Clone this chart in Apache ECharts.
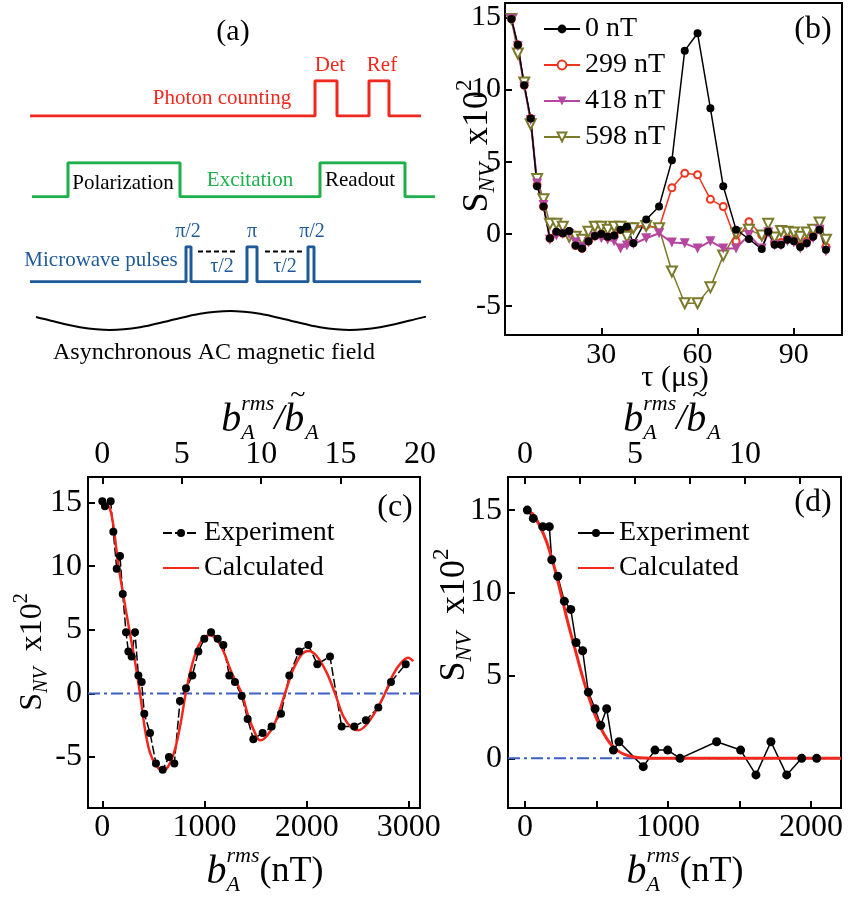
<!DOCTYPE html>
<html lang="en">
<head>
<meta charset="UTF-8">
<title>NV spin echo</title>
<script src="https://cdn.jsdelivr.net/npm/echarts@6/dist/echarts.min.js"></script>
<style>html,body{margin:0;padding:0;background:#fff}</style>
</head>
<body>
<div id="main" style="width:852px;height:903px"></div>
<script>
var FONT = 'Liberation Serif';

// (a) pulse sequence, schematic time vs level
var photonT = [30, 315, 315, 337, 337, 369, 369, 389, 389, 421];
var photonLvl = [0, 0, 1, 1, 0, 0, 1, 1, 0, 0];
var laserT = [32, 68, 68, 180, 180, 320, 320, 405, 405, 435];
var laserLvl = [0, 0, 1, 1, 0, 0, 1, 1, 0, 0];
var mwT = [30, 186, 186, 191, 191, 247, 247, 257, 257, 308, 308, 314, 314, 421];
var mwLvl = [0, 0, 1, 1, 0, 0, 1, 1, 0, 0, 1, 1, 0, 0];
var acT = [36, 50, 80, 110, 140, 170, 200, 230, 260, 290, 320, 350, 380, 410, 426];
var acLvl = [0.36, 0, -0.71, -1, -0.71, 0, 0.71, 1, 0.71, 0, -0.71, -1, -0.71, 0, 0.41];
var gap1T = [198, 238];
var gap2T = [265, 305];

// (b) S_NV x10^2 vs tau (us)
var tauUs = [2, 4, 6, 8, 10, 12, 14, 16, 18, 20, 22, 24, 26, 28, 30, 32, 34, 36, 38, 40,
             44, 48, 52, 56, 60, 64, 68, 72, 76, 80, 82, 84, 86, 88, 90, 92, 94, 96, 98, 100];
var sig0nT = [14.9, 13.1, 10.3, 8.0, 3.3, 1.9, -0.3, 0.15, 0.05, 0.2, -0.8, -1.0, -0.5, -0.15, 0, -0.2, -0.1, 0.3, 0.5, -0.65,
              1.0, 1.9, 5.1, 12.7, 13.9, 8.7, 3.3, 0.3, -0.35, -1.05, 0.15, -0.75, -0.75, -0.4, -0.5, -0.9, -0.65, -0.2, 0.3, -1.1];
var sig299nT = [14.9, 13.1, 10.3, 8.0, 3.4, 1.9, -0.3, 0.1, 0.05, 0.15, -0.8, -1.0, -0.5, -0.15, 0, -0.2, -0.1, 0.3, 0.4, 0.5,
                0.6, 0.4, 3.2, 4.2, 4.1, 2.4, 1.9, -0.5, 0.85, -0.07, 0.2, -0.6, -0.6, -0.3, -0.4, -0.8, -0.5, -0.1, 0.4, -0.9];
var sig418nT = [14.9, 13.0, 10.2, 7.9, 3.5, 2.0, -0.4, -0.1, 0.0, 0.0, -0.6, -0.9, -0.6, -0.2, -0.3, -0.4, -0.5, -1.0, -0.8, -0.7,
                -0.3, 0.05, -0.6, -0.65, -1.0, -0.5, -1.0, -1.0, -0.07, -1.0, 0.1, -0.8, -0.8, -0.5, -0.6, -1.0, -0.7, -0.3, 0.3, -1.2];
var sig598nT = [14.9, 12.5, 10.5, 7.6, 3.8, 2.4, 0.7, 0.7, 0.5, -0.2, -0.2, -0.4, 0.15, 0.5, 0.5, 0.3, 0.5, 0.5, -0.2, 0.4,
                0.55, 0.4, -2.6, -4.8, -4.8, -3.7, -1.5, 0.05, 0.3, -0.1, 0.7, -0.25, 0.2, 0.15, 0.1, -0.2, 0.1, 0.3, 0.8, -0.4];

// (c) S_NV x10^2 vs b_A^rms (nT)
var expC_b = [0, 26, 82, 108, 141, 173, 200, 232, 255, 287, 320, 353, 385, 411, 467, 525, 591, 652, 705, 760,
              819, 881, 940, 998, 1064, 1129, 1185, 1243, 1298, 1364, 1422, 1478, 1569, 1657, 1749, 1830, 1925, 2016, 2104, 2228,
              2342, 2466, 2580, 2701, 2825, 2969];
var expC_s = [15.1, 14.7, 15.1, 12.7, 9.8, 10.8, 7.8, 4.8, 3.3, 2.9, 4.8, 1.4, 0.9, -1.6, -3.1, -5.5, -6.0, -5.0, -5.5, -0.6,
              0.4, 1.4, 3.3, 4.3, 4.8, 4.3, 3.8, 1.4, 0.9, -0.2, -2.0, -3.6, -3.1, -2.6, -1.6, 1.4, 3.3, 3.8, 2.3, 2.9,
              -2.6, -2.6, -2.1, -1.1, 0.9, 2.3];
var calcC_b = [0, 40, 75, 108, 157, 206, 264, 320, 369, 418, 467, 532, 591, 646, 711, 770, 816, 875, 940, 1005,
               1054, 1119, 1184, 1266, 1364, 1429, 1494, 1543, 1608, 1690, 1788, 1869, 1951, 2016, 2098, 2196, 2277, 2358, 2440, 2505,
               2587, 2685, 2766, 2847, 2929, 2994, 3043];
var calcC_s = [15.0, 14.9, 14.5, 13.2, 10.1, 7.7, 5.0, 2.5, 0, -2.83, -4.67, -5.72, -6.04, -5.72, -4.4, -2.2, 0, 2.15, 3.72, 4.46,
               4.57, 4.25, 3.33, 1.63, 0, -1.79, -3.1, -3.68, -3.36, -2.3, 0, 1.89, 3.07, 3.33, 2.94, 1.63, 0, -1.79, -2.7, -2.89,
               -2.44, -1.26, 0, 1.5, 2.46, 2.81, 2.54];

// (d) S_NV x10^2 vs b_A^rms (nT)
var expD_b = [16, 58, 124, 170, 187, 229, 275, 320, 357, 403, 443, 490, 529, 571, 618, 657, 827, 909, 998, 1084,
              1340, 1508, 1615, 1720, 1830, 1935, 2040];
var expD_s = [15.0, 14.5, 14.0, 14.0, 12.0, 11.0, 9.5, 9.0, 7.0, 6.5, 4.0, 3.0, 2.0, 3.0, 0.5, 1.0, -0.5, 0.5, 0.5, 0.0,
              1.0, 0.5, -1.0, 1.0, -1.0, 0.0, 0.0];
var calcD_b = [0, 50, 100, 150, 200, 250, 300, 350, 400, 450, 500, 550, 600, 650, 700, 750, 800, 900, 1000, 2210];
var calcD_s = [15.0, 14.8, 14.1, 13.1, 11.7, 10.0, 8.2, 6.6, 5.0, 3.6, 2.4, 1.5, 0.85, 0.45, 0.22, 0.1, 0.04, 0.01, 0, 0];

// axis extents
var tauRange = [0, 105], sigBRange = [-7, 16];
var bC = [-140, 3109], ratioC = [-0.9, 20], sigCRange = [-9, 17];
var bD = [-119, 2210], ratioD = [-0.773, 14.36], sigDRange = [-3, 17];

function pairs(xs, ys) { return xs.map(function (x, i) { return [x, ys[i]]; }); }

var measureCtx = document.createElement('canvas').getContext('2d');
function textWidth(t, size, italic) {
    measureCtx.font = (italic ? 'italic ' : '') + size + 'px "' + FONT + '"';
    return measureCtx.measureText(t).width;
}

function label(t, x, y, size, color, italic) {
    return {type: 'text', x: x, y: y, z: 100,
        style: {text: t, fontFamily: FONT, fontSize: size, fontStyle: italic ? 'italic' : 'normal',
                fill: color || '#000', align: 'center', verticalAlign: 'middle'}};
}

// pieces laid left to right, an array entry = stacked pieces (sup over sub)
function mathTitle(parts, cx, cy, rot) {
    var adv = parts.map(function (p) {
        return Math.max.apply(null, [].concat(p).map(function (q) {
            return textWidth(q.t, q.s, q.i) + (q.dx || 0);
        }));
    });
    var total = adv.reduce(function (a, b) { return a + b; }, 0);
    var x = -total / 2, kids = [];
    parts.forEach(function (p, k) {
        [].concat(p).forEach(function (q) {
            kids.push({type: 'text', x: x + (q.dx || 0), y: q.dy || 0,
                style: {text: q.t, fontFamily: FONT, fontSize: q.s, fontStyle: q.i ? 'italic' : 'normal',
                        fill: '#000', align: 'left', verticalAlign: 'middle'}});
        });
        x += adv[k];
    });
    return {type: 'group', x: cx, y: cy, rotation: rot || 0, z: 100, children: kids};
}

function sTitle(big, small, gap) {
    return [{t: 'S', s: big}, {t: 'NV', s: small, i: true, dy: small * 0.45}, {t: gap + 'x10', s: big},
            {t: '2', s: small, dy: -small * 0.55}];
}
var bTitle = [{t: 'b', s: 40, i: true}, [{t: 'rms', s: 22, i: true, dy: -16}, {t: 'A', s: 22, i: true, dy: 13}], {t: '(nT)', s: 36}];
var ratioTitle = [{t: 'b', s: 40, i: true}, [{t: 'rms', s: 22, i: true, dy: -16}, {t: 'A', s: 22, i: true, dy: 13}],
                  {t: '/', s: 36, i: true}, [{t: 'b', s: 40, i: true}, {t: '~', s: 28, dx: 6, dy: -24}],
                  {t: 'A', s: 22, i: true, dy: 13}];

function hiddenAxis(gridIndex, range) {
    return {type: 'value', gridIndex: gridIndex, min: range[0], max: range[1], show: false};
}

function frameAxis(gridIndex, pos, range, step, labelEvery, size, margin, hideZero) {
    return {
        type: 'value', gridIndex: gridIndex, position: pos, min: range[0], max: range[1],
        minInterval: step, maxInterval: step,
        axisLine: {show: true, onZero: false, lineStyle: {color: '#000', width: 2}},
        axisTick: {show: true, inside: true, length: 7, lineStyle: {color: '#000', width: 2}},
        splitLine: {show: false},
        axisLabel: {
            color: '#000', fontFamily: FONT, fontSize: size, margin: margin,
            formatter: function (v) {
                var r = Math.round(v / labelEvery) * labelEvery;
                if (Math.abs(v - r) > 1e-6) return '';
                if (hideZero && r === 0) return '';
                return String(r);
            }
        }
    };
}

function pulseLine(xi, t, lvl, color, width) {
    return {type: 'line', xAxisIndex: xi, yAxisIndex: xi, data: pairs(t, lvl), symbol: 'none',
            lineStyle: {color: color, width: width}, silent: true};
}

var RED = '#f0281e', GREEN = '#1eb04a', BLUE = '#1f5a98';
var legendText = {fontFamily: FONT, fontSize: 28, color: '#000', lineHeight: 30};

var option = {
    animation: false,
    backgroundColor: '#fff',
    grid: [
        {left: 0, top: 80.7, width: 440, height: 35.3},
        {left: 0, top: 162.7, width: 440, height: 34},
        {left: 0, top: 246.7, width: 440, height: 35},
        {left: 0, top: 311, width: 440, height: 19},
        {left: 505, top: 3, width: 337, height: 332, show: true, borderColor: '#000', borderWidth: 2},
        {left: 88, top: 477, width: 332, height: 331, show: true, borderColor: '#000', borderWidth: 2},
        {left: 508, top: 477, width: 333, height: 331, show: true, borderColor: '#000', borderWidth: 2}
    ],
    xAxis: [
        hiddenAxis(0, [0, 440]), hiddenAxis(1, [0, 440]), hiddenAxis(2, [0, 440]), hiddenAxis(3, [0, 440]),
        frameAxis(4, 'bottom', tauRange, 30, 30, 30, 5, true),
        frameAxis(5, 'bottom', bC, 1000, 1000, 32, 4),
        frameAxis(5, 'top', ratioC, 5, 5, 32, 6),
        frameAxis(6, 'bottom', bD, 500, 1000, 32, 4),
        frameAxis(6, 'top', ratioD, 2.5, 5, 32, 6)
    ],
    yAxis: [
        hiddenAxis(0, [0, 1]), hiddenAxis(1, [0, 1]), hiddenAxis(2, [0, 1]), hiddenAxis(3, [-1, 1]),
        frameAxis(4, 'left', sigBRange, 5, 5, 30, 4),
        frameAxis(5, 'left', sigCRange, 5, 5, 32, 6),
        frameAxis(6, 'left', sigDRange, 5, 5, 32, 6)
    ],
    legend: [
        {data: ['0 nT', '299 nT', '418 nT', '598 nT'], orient: 'vertical', left: 538, top: 9,
         itemWidth: 36, itemHeight: 11, itemGap: 6, selectedMode: false, textStyle: legendText},
        {data: ['Experiment', {name: 'Calculated', itemStyle: {opacity: 0}}], orient: 'vertical', left: 157, top: 513,
         itemWidth: 36, itemHeight: 10, itemGap: 5, selectedMode: false, textStyle: legendText},
        {data: ['Experiment (d)', {name: 'Calculated (d)', itemStyle: {opacity: 0}}], orient: 'vertical', left: 572, top: 513,
         itemWidth: 36, itemHeight: 10, itemGap: 5, selectedMode: false,
         formatter: function (n) { return n.replace(' (d)', ''); }, textStyle: legendText}
    ],
    series: [
        pulseLine(0, photonT, photonLvl, RED, 3),
        pulseLine(1, laserT, laserLvl, GREEN, 3),
        pulseLine(2, mwT, mwLvl, BLUE, 3),
        {type: 'line', xAxisIndex: 2, yAxisIndex: 2, data: pairs(gap1T, [0.86, 0.86]), symbol: 'none',
         lineStyle: {color: '#000', width: 2, type: [5, 3]}},
        {type: 'line', xAxisIndex: 2, yAxisIndex: 2, data: pairs(gap2T, [0.86, 0.86]), symbol: 'none',
         lineStyle: {color: '#000', width: 2, type: [5, 3]}},
        {type: 'line', xAxisIndex: 3, yAxisIndex: 3, data: pairs(acT, acLvl), symbol: 'none', smooth: 0.3,
         lineStyle: {color: '#000', width: 2}},

        {name: '299 nT', type: 'line', xAxisIndex: 4, yAxisIndex: 4, data: pairs(tauUs, sig299nT),
         symbol: 'emptyCircle', symbolSize: 7, itemStyle: {color: '#f0331f', borderWidth: 1.2},
         lineStyle: {color: '#f0331f', width: 1.5}},
        {name: '598 nT', type: 'line', xAxisIndex: 4, yAxisIndex: 4, data: pairs(tauUs, sig598nT),
         symbol: 'emptyTriangle', symbolRotate: 180, symbolSize: 10, itemStyle: {color: '#7a7a2a', borderWidth: 1.2},
         lineStyle: {color: '#7a7a2a', width: 1.5}},
        {name: '418 nT', type: 'line', xAxisIndex: 4, yAxisIndex: 4, data: pairs(tauUs, sig418nT),
         symbol: 'triangle', symbolRotate: 180, symbolSize: 10, itemStyle: {color: '#b5479e'},
         lineStyle: {color: '#b5479e', width: 2}},
        {name: '0 nT', type: 'line', xAxisIndex: 4, yAxisIndex: 4, data: pairs(tauUs, sig0nT),
         symbol: 'circle', symbolSize: 8, itemStyle: {color: '#000'},
         lineStyle: {color: '#000', width: 1.5}},

        {type: 'line', xAxisIndex: 5, yAxisIndex: 5, data: pairs(bC, [0, 0]), symbol: 'none',
         lineStyle: {color: '#3d5fc4', width: 2, type: [12, 4, 3, 4]}},
        {name: 'Experiment', type: 'line', xAxisIndex: 5, yAxisIndex: 5, data: pairs(expC_b, expC_s),
         symbol: 'circle', symbolSize: 8, itemStyle: {color: '#000'},
         lineStyle: {color: '#000', width: 1.5, type: [9, 3]}},
        {name: 'Calculated', type: 'line', xAxisIndex: 5, yAxisIndex: 5, data: pairs(calcC_b, calcC_s),
         symbol: 'none', smooth: 0.35, itemStyle: {color: RED}, lineStyle: {color: RED, width: 2.5}},

        {type: 'line', xAxisIndex: 7, yAxisIndex: 6, data: pairs(bD, [0, 0]), symbol: 'none',
         lineStyle: {color: '#3d5fc4', width: 2, type: [12, 4, 3, 4]}},
        {name: 'Experiment (d)', type: 'line', xAxisIndex: 7, yAxisIndex: 6, data: pairs(expD_b, expD_s),
         symbol: 'circle', symbolSize: 9, itemStyle: {color: '#000'},
         lineStyle: {color: '#000', width: 1.5}},
        {name: 'Calculated (d)', type: 'line', xAxisIndex: 7, yAxisIndex: 6, data: pairs(calcD_b, calcD_s),
         symbol: 'none', smooth: 0.35, itemStyle: {color: RED}, lineStyle: {color: RED, width: 3}}
    ],
    graphic: [
        label('(a)', 233, 32, 30),
        label('Photon counting', 222, 98, 21, RED),
        label('Det', 330, 65, 21, RED),
        label('Ref', 382, 65, 21, RED),
        label('Polarization', 123, 183, 21),
        label('Excitation', 250, 180, 21, GREEN),
        label('Readout', 360, 180, 21),
        label('Microwave pulses', 101, 260, 21, BLUE),
        label('\u03c0/2', 188, 232, 20, BLUE),
        label('\u03c0', 252, 232, 20, BLUE),
        label('\u03c0/2', 312, 232, 20, BLUE),
        label('\u03c4/2', 222, 267, 20, BLUE),
        label('\u03c4/2', 285, 267, 20, BLUE),
        label('Asynchronous AC magnetic field', 214, 353, 24),
        label('(b)', 813, 30, 32),
        label('(c)', 395, 508, 32),
        label('(d)', 813, 503, 32),
        label('\u03c4 (\u03bcs)', 675, 378, 30),
        mathTitle(sTitle(36, 23, '  '), 478, 146, Math.PI / 2),
        mathTitle(sTitle(32, 20, '  '), 33, 652, Math.PI / 2),
        mathTitle(sTitle(36, 23, '  '), 455, 615, Math.PI / 2),
        mathTitle(ratioTitle, 270, 420),
        mathTitle(ratioTitle, 672, 420),
        mathTitle(bTitle, 265, 872),
        mathTitle(bTitle, 685, 872)
    ]
};

var chart = echarts.init(document.getElementById('main'));
chart.setOption(option);
</script>
</body>
</html>
